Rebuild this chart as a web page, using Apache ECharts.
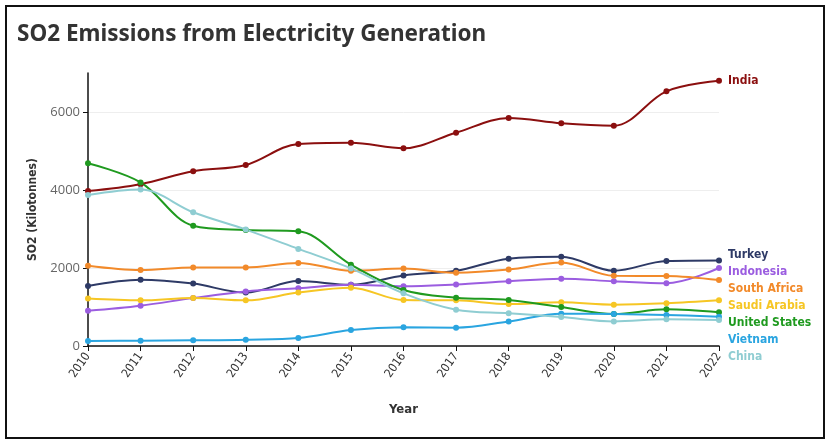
<!DOCTYPE html>
<html>
<head>
    <meta charset="utf-8">
    <title>SO2 Emissions from Electricity Generation</title>
    <script src="https://cdn.jsdelivr.net/npm/echarts@6/dist/echarts.min.js"></script>
    <style>
        html, body { margin: 0; padding: 0; background: #fff; }
        #frame {
            position: absolute;
            left: 5px; top: 5px;
            width: 816px; height: 430px;
            border: 2px solid #111;
        }
        #main { position: absolute; left: 0; top: 0; width: 829px; height: 442px; }
    </style>
</head>
<body>
<div id="frame"></div>
<div id="main"></div>
<script>
    // 年份
    var years = ['2010', '2011', '2012', '2013', '2014', '2015', '2016', '2017', '2018', '2019', '2020', '2021', '2022'];
    // 各国排放量 (千吨)
    var india        = [3975, 4150, 4480, 4640, 5180, 5210, 5070, 5470, 5845, 5710, 5650, 6530, 6800];
    var turkey       = [1540, 1700, 1600, 1370, 1665, 1570, 1810, 1930, 2240, 2290, 1930, 2180, 2195];
    var indonesia    = [905, 1035, 1230, 1400, 1480, 1570, 1530, 1580, 1660, 1725, 1660, 1610, 2000];
    var southAfrica  = [2060, 1950, 2015, 2015, 2130, 1930, 1985, 1880, 1960, 2140, 1800, 1795, 1690];
    var saudiArabia  = [1215, 1170, 1230, 1170, 1370, 1495, 1180, 1170, 1075, 1120, 1060, 1095, 1170];
    var unitedStates = [4685, 4195, 3085, 2975, 2940, 2085, 1435, 1240, 1180, 1000, 820, 940, 865];
    var vietnam      = [128, 136, 146, 162, 205, 410, 480, 470, 630, 830, 820, 795, 750];
    var china        = [3870, 4010, 3430, 2985, 2490, 1990, 1350, 930, 840, 745, 630, 685, 665];

    var narrow = "'DejaVu Sans Condensed', 'Roboto', sans-serif";

    var seriesList = [
        { name: 'India', data: india, color: '#8b0f0f' },
        { name: 'Turkey', data: turkey, color: '#2e3a66' },
        { name: 'Indonesia', data: indonesia, color: '#9b5de0' },
        { name: 'South Africa', data: southAfrica, color: '#f28a2a' },
        { name: 'Saudi Arabia', data: saudiArabia, color: '#f6c624' },
        { name: 'United States', data: unitedStates, color: '#1f9a1f' },
        { name: 'Vietnam', data: vietnam, color: '#2aa5e0' },
        { name: 'China', data: china, color: '#8fcdd2' }
    ];

    var myChart = echarts.init(document.getElementById('main'));

    var series = [];
    for (var i = 0; i < seriesList.length; i++) {
        var s = seriesList[i];
        series.push({
            name: s.name,
            type: 'line',
            data: s.data,
            smooth: 0.35,
            symbol: 'circle',
            symbolSize: 6,
            color: s.color,
            lineStyle: { width: 2, color: s.color },
            itemStyle: { color: s.color },
            endLabel: {
                show: true,
                formatter: '{a}',
                color: s.color,
                fontFamily: narrow,
                fontWeight: 'bold',
                fontSize: 12,
                lineHeight: 17,
                distance: 9,
                // 除 India 外的标签整体略微上移
                offset: s.name === 'India' ? [0, 0] : [0, -6]
            },
            labelLine: { show: true, lineStyle: { color: '#aaa', width: 1 } },
            labelLayout: { moveOverlap: 'shiftY' },
            emphasis: { disabled: true }
        });
    }

    var option = {
        animation: false,
        textStyle: { fontFamily: narrow },
        title: {
            text: 'SO2 Emissions from Electricity Generation',
            left: 12,
            top: 18,
            textStyle: { fontFamily: 'Noto Sans', fontSize: 22.5, fontWeight: 'bold', color: '#333' }
        },
        grid: { left: 88, right: 110, top: 73, bottom: 96 },
        xAxis: {
            type: 'category',
            data: years,
            boundaryGap: false,
            name: 'Year',
            nameLocation: 'middle',
            nameGap: 57,
            nameTextStyle: { fontFamily: narrow, fontWeight: 'bold', fontSize: 13, color: '#333' },
            axisLine: { lineStyle: { color: '#111', width: 1.5 } },
            axisTick: { show: true, alignWithLabel: true, length: 5, lineStyle: { color: '#111' } },
            axisLabel: { rotate: 55, color: '#333', fontSize: 12, margin: 8, fontFamily: narrow }
        },
        yAxis: {
            type: 'value',
            min: 0,
            max: 7000,
            interval: 2000,
            name: 'SO2 (Kilotonnes)',
            nameLocation: 'middle',
            nameGap: 49,
            nameTextStyle: { fontFamily: narrow, fontWeight: 'bold', fontSize: 12, color: '#333' },
            axisLine: { show: true, lineStyle: { color: '#111', width: 1.5 } },
            axisTick: { show: true, length: 5, lineStyle: { color: '#111' } },
            axisLabel: {
                color: '#666', fontSize: 13, showMaxLabel: false, fontFamily: 'Open Sans',
                formatter: function (v) { return String(v); }
            },
            splitLine: { show: true, lineStyle: { color: ['#eee', '#eee', '#eee', '#eee', 'rgba(0,0,0,0)'] } }
        },
        series: series
    };

    myChart.setOption(option);
</script>
</body>
</html>
